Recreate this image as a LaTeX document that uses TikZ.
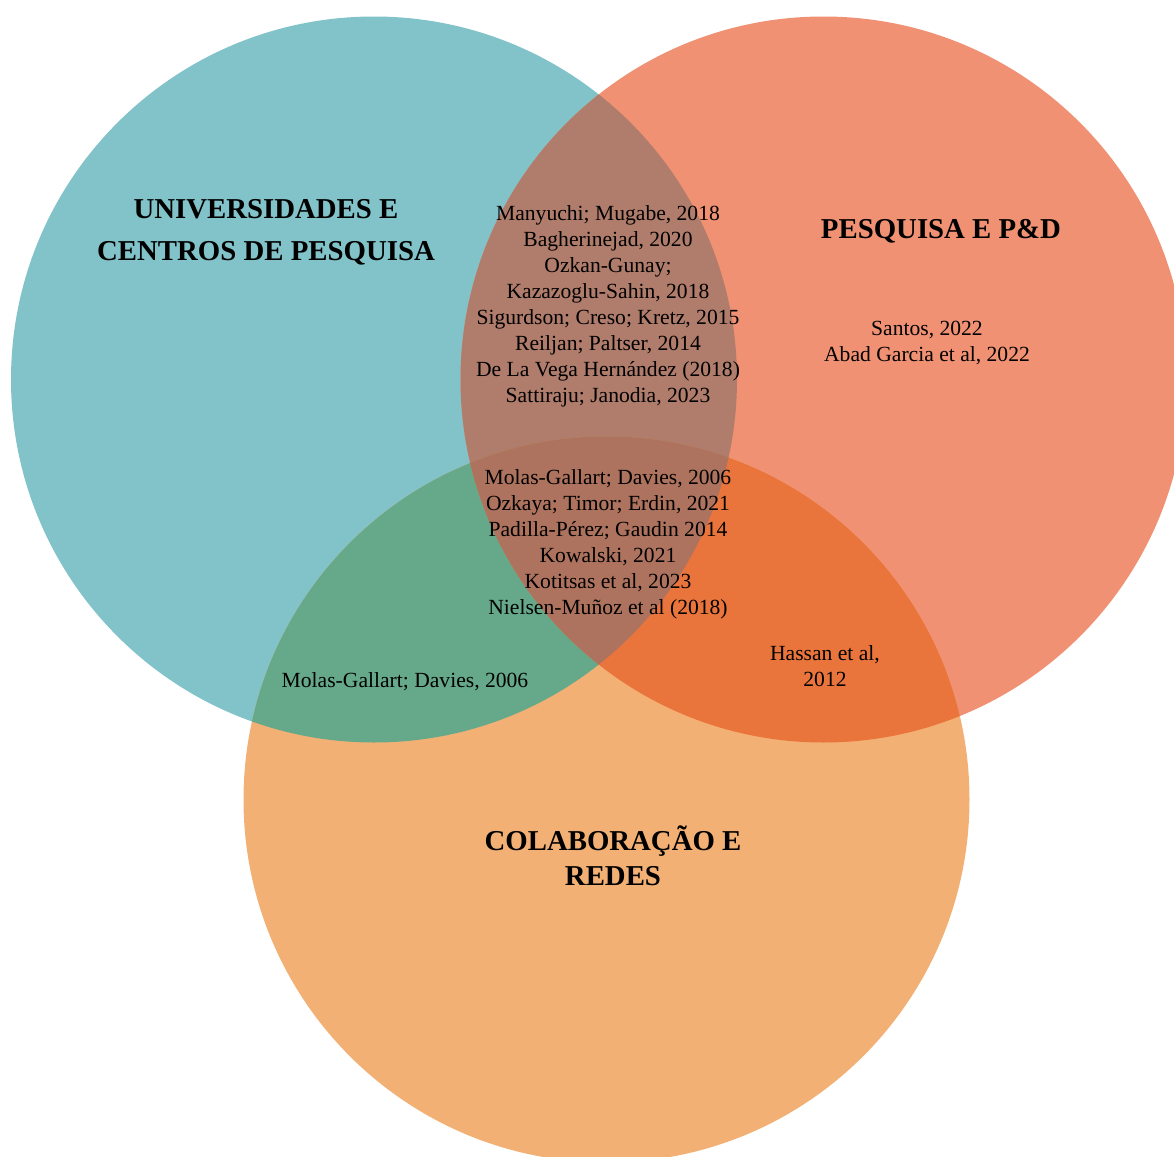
\documentclass[tikz,border=0pt]{standalone}
\usepackage{fontspec}
\setmainfont{Liberation Serif}
\definecolor{cBlue}{HTML}{82C3CA}
\definecolor{cRed}{HTML}{F09173}
\definecolor{cOrange}{HTML}{F3B074}
\definecolor{cBR}{HTML}{B07C6B}
\definecolor{cBO}{HTML}{66A98A}
\definecolor{cRO}{HTML}{EA753C}
\definecolor{cBRO}{HTML}{AE735E}
\begin{document}
\begin{tikzpicture}[x=0.5pt,y=-0.5pt,
  ref/.style={font=\fontsize{10.8}{13}\selectfont, align=center, text=black, inner sep=0pt},
  head/.style={font=\fontsize{14.4}{21}\selectfont\bfseries, align=center, text=black, inner sep=0pt},
  rad/.style={radius=181.5pt}]
\useasboundingbox (0,0) rectangle (1174,1157);
\clip (0,0) rectangle (1174,1157);
\coordinate (cb) at (374,379.5);
\coordinate (cr) at (823.5,379.5);
\coordinate (co) at (606.5,799.5);
% base circles
\fill[cBlue] (cb) circle[rad];
\fill[cRed] (cr) circle[rad];
\fill[cOrange] (co) circle[rad];
% pairwise overlaps
\begin{scope}
  \clip (cb) circle[rad];
  \fill[cBR] (cr) circle[rad];
  \fill[cBO] (co) circle[rad];
\end{scope}
\begin{scope}
  \clip (cr) circle[rad];
  \fill[cRO] (co) circle[rad];
\end{scope}
% triple overlap
\begin{scope}
  \clip (cb) circle[rad];
  \clip (cr) circle[rad];
  \fill[cBRO] (co) circle[rad];
\end{scope}
% headings
\node[head] (hUni) at (266,232) {UNIVERSIDADES E\\CENTROS DE PESQUISA};
\node[head] (hPes) at (941,231) {PESQUISA E P\&D};
\node[head, font=\fontsize{14.4}{17.5}\selectfont\bfseries] (hCol) at (613,856) {COLABORAÇÃO E\\REDES};
% references
\node[ref] (tBR) at (608,306) {Manyuchi; Mugabe, 2018\\Bagherinejad, 2020\\Ozkan-Gunay;\\Kazazoglu-Sahin, 2018\\Sigurdson; Creso; Kretz, 2015\\Reiljan; Paltser, 2014\\De La Vega Hernández (2018)\\Sattiraju; Janodia, 2023};
\node[ref] (tBRO) at (608,544) {Molas-Gallart; Davies, 2006\\Ozkaya; Timor; Erdin, 2021\\Padilla-Pérez; Gaudin 2014\\Kowalski, 2021\\Kotitsas et al, 2023\\Nielsen-Muñoz et al (2018)};
\node[ref] (tR) at (927,343) {Santos, 2022\\Abad Garcia et al, 2022};
\node[ref] (tBO) at (405,682) {Molas-Gallart; Davies, 2006};
\node[ref] (tRO) at (825,666) {Hassan et al,\\2012};
\end{tikzpicture}
\end{document}
